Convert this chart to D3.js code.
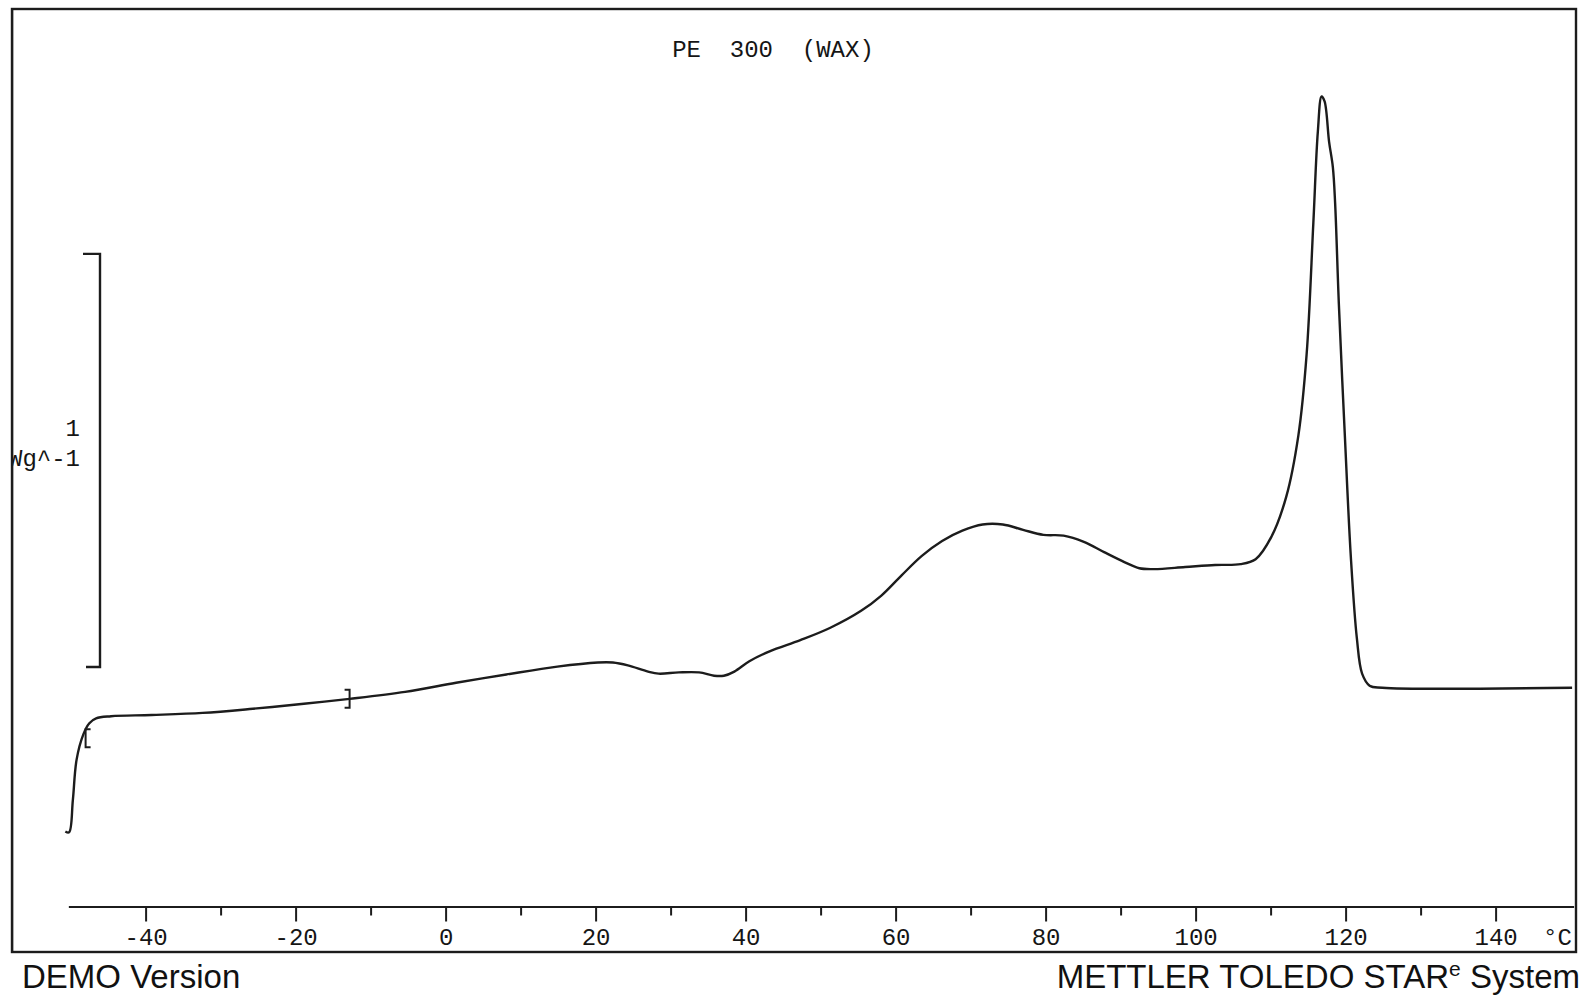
<!DOCTYPE html>
<html>
<head>
<meta charset="utf-8">
<script src="https://cdn.jsdelivr.net/npm/d3@7/dist/d3.min.js"></script>
<style>
    body { margin: 0; background: #fff; }
    svg { display: block; }
    .mono { font-family: "Liberation Mono", "DejaVu Sans Mono", monospace; font-size: 24px; fill: #151515; }
    .sans { font-family: "Liberation Sans", Arial, sans-serif; font-size: 33px; fill: #111; }
</style>
</head>
<body>
<svg id="chart" width="1588" height="997"></svg>
<script>
// DSC trace: temperature (°C) and heat flow (W/g, endo up, 0 = end baseline)
const temps = [-50.7, -50.2, -49.7, -49.2, -48.3, -47.5, -46.6, -44.6, -39.2, -32.4, -25.7, -18.9, -12.8, -5.4,
    1.4, 8.1, 14.9, 20.3, 22.3, 24.3, 27.0, 28.4, 31.1, 33.8, 35.8, 37.1, 38.5, 40.5, 43.2, 47.3, 51.3,
    55.4, 58.1, 60.8, 63.5, 66.2, 68.9, 71.6, 74.3, 77.0, 79.7, 82.4, 85.1, 87.8, 90.5, 92.5, 94.5, 98.6,
    102.6, 106.0, 108.0, 110.1, 112.1, 113.7, 114.8, 115.7, 116.3, 116.8, 117.2, 117.8, 118.3, 118.6,
    119.1, 119.9, 120.7, 121.5, 122.2, 123.2, 124.9, 150.2];
const heatFlow = [-0.348, -0.350, -0.272, -0.174, -0.113, -0.086, -0.074, -0.069, -0.066, -0.061, -0.051, -0.039, -0.027, -0.010,
    0.012, 0.032, 0.051, 0.061, 0.061, 0.054, 0.039, 0.034, 0.037, 0.037, 0.029, 0.029, 0.039, 0.064, 0.088, 0.115, 0.145,
    0.186, 0.223, 0.272, 0.319, 0.355, 0.380, 0.395, 0.395, 0.382, 0.370, 0.368, 0.353, 0.328, 0.304, 0.289, 0.287, 0.292,
    0.297, 0.299, 0.311, 0.365, 0.463, 0.610, 0.806, 1.125, 1.346, 1.431, 1.419, 1.321, 1.260, 1.174,
    0.929, 0.610, 0.316, 0.120, 0.034, 0.005, 0, 0];

const majorTicks = [-40, -20, 0, 20, 40, 60, 80, 100, 120, 140];
const minorTicks = [-30, -10, 10, 30, 50, 70, 90, 110, 130];
const limits = [-48.0, -12.8];      // evaluation limit brackets on the curve
const scaleBar = [0.05, 1.05];      // 1 W/g scale bar
const title = "PE  300  (WAX)";

const svg = d3.select("svg#chart");

// scales: 7.5 px per °C, 413 px per W/g
const x = d3.scaleLinear().domain([-50.3, 150.4]).range([445.6 - 50.3 * 7.5, 445.6 + 150.4 * 7.5]);
const y = d3.scaleLinear().domain([0, 1]).range([687.7, 274.5]);
const axisY = 906.5;

const ink = "#1c1c1c";

// frame
svg.append("rect")
    .attr("x", 12).attr("y", 9)
    .attr("width", 1564).attr("height", 943)
    .attr("fill", "none").attr("stroke", ink).attr("stroke-width", 2.4);

// title
svg.append("text")
    .attr("class", "mono")
    .attr("x", 773).attr("y", 57)
    .attr("text-anchor", "middle")
    .style("white-space", "pre")
    .text(title);

// x axis
const gx = svg.append("g").attr("transform", `translate(0,${axisY})`);
gx.call(d3.axisBottom(x).tickValues(majorTicks).tickSize(15).tickSizeOuter(0).tickFormat(d3.format("d")));
gx.select(".domain").attr("stroke", ink).attr("stroke-width", 2);
gx.selectAll(".tick line").attr("stroke", ink).attr("stroke-width", 2);
gx.selectAll(".tick text")
    .attr("class", "mono")
    .attr("y", 38.5).attr("dy", 0)
    .attr("fill", null)
    .text(d => d < 0 ? "-" + Math.abs(d) : d);
gx.attr("font-family", null).attr("font-size", null);

const gm = svg.append("g").attr("transform", `translate(0,${axisY})`);
gm.call(d3.axisBottom(x).tickValues(minorTicks).tickSize(9).tickSizeOuter(0).tickFormat(""));
gm.select(".domain").remove();
gm.selectAll(".tick line").attr("stroke", ink).attr("stroke-width", 2);

svg.append("text")
    .attr("class", "mono")
    .attr("x", 1543).attr("y", axisY + 38.5)
    .style("white-space", "pre")
    .text("°C");

// scale bar (1 W/g)
const barX = 100;
svg.append("path")
    .attr("d", `M${barX - 17},${y(scaleBar[1])}H${barX}V${y(scaleBar[0])}H${barX - 14}`)
    .attr("fill", "none").attr("stroke", ink).attr("stroke-width", 2.4);

svg.append("text").attr("class", "mono")
    .attr("x", 80).attr("y", 436).attr("text-anchor", "end").text("1");
svg.append("text").attr("class", "mono")
    .attr("x", 80).attr("y", 466).attr("text-anchor", "end").text("Wg^-1");
// frame line drawn over the clipped label
svg.append("rect").attr("x", 0).attr("y", 9).attr("width", 11).attr("height", 943).attr("fill", "#fff");
svg.append("line")
    .attr("x1", 12).attr("x2", 12).attr("y1", 9).attr("y2", 952)
    .attr("stroke", ink).attr("stroke-width", 2.4);

// curve
const points = temps.map((t, i) => [t, heatFlow[i]]);
const line = d3.line()
    .x(d => x(d[0]))
    .y(d => y(d[1]))
    .curve(d3.curveCatmullRom.alpha(0.5));

svg.append("path")
    .datum(points)
    .attr("d", line)
    .attr("fill", "none")
    .attr("stroke", ink)
    .attr("stroke-width", 2.4)
    .attr("stroke-linejoin", "round");

// evaluation limit brackets
const flowAt = d3.scaleLinear().domain(temps.slice(1)).range(heatFlow.slice(1));
svg.selectAll("path.limit")
    .data(limits)
    .join("path")
    .attr("class", "limit")
    .attr("d", (d, i) => {
        const cx = x(d), cy = y(flowAt(d)) + (i === 0 ? 8 : 0);
        const w = i === 0 ? 5 : -5;
        return `M${cx + w},${cy - 9}H${cx}V${cy + 9}H${cx + w}`;
    })
    .attr("fill", "none")
    .attr("stroke", ink)
    .attr("stroke-width", 2);

// footer
svg.append("text").attr("class", "sans")
    .attr("x", 22).attr("y", 988)
    .text("DEMO Version");

const footer = svg.append("text").attr("class", "sans")
    .attr("x", 1580).attr("y", 988)
    .attr("text-anchor", "end");
footer.append("tspan").text("METTLER TOLEDO STAR");
footer.append("tspan").attr("font-size", "21px").attr("dy", -12).text("e");
footer.append("tspan").attr("dy", 12).text(" System");
</script>
</body>
</html>
